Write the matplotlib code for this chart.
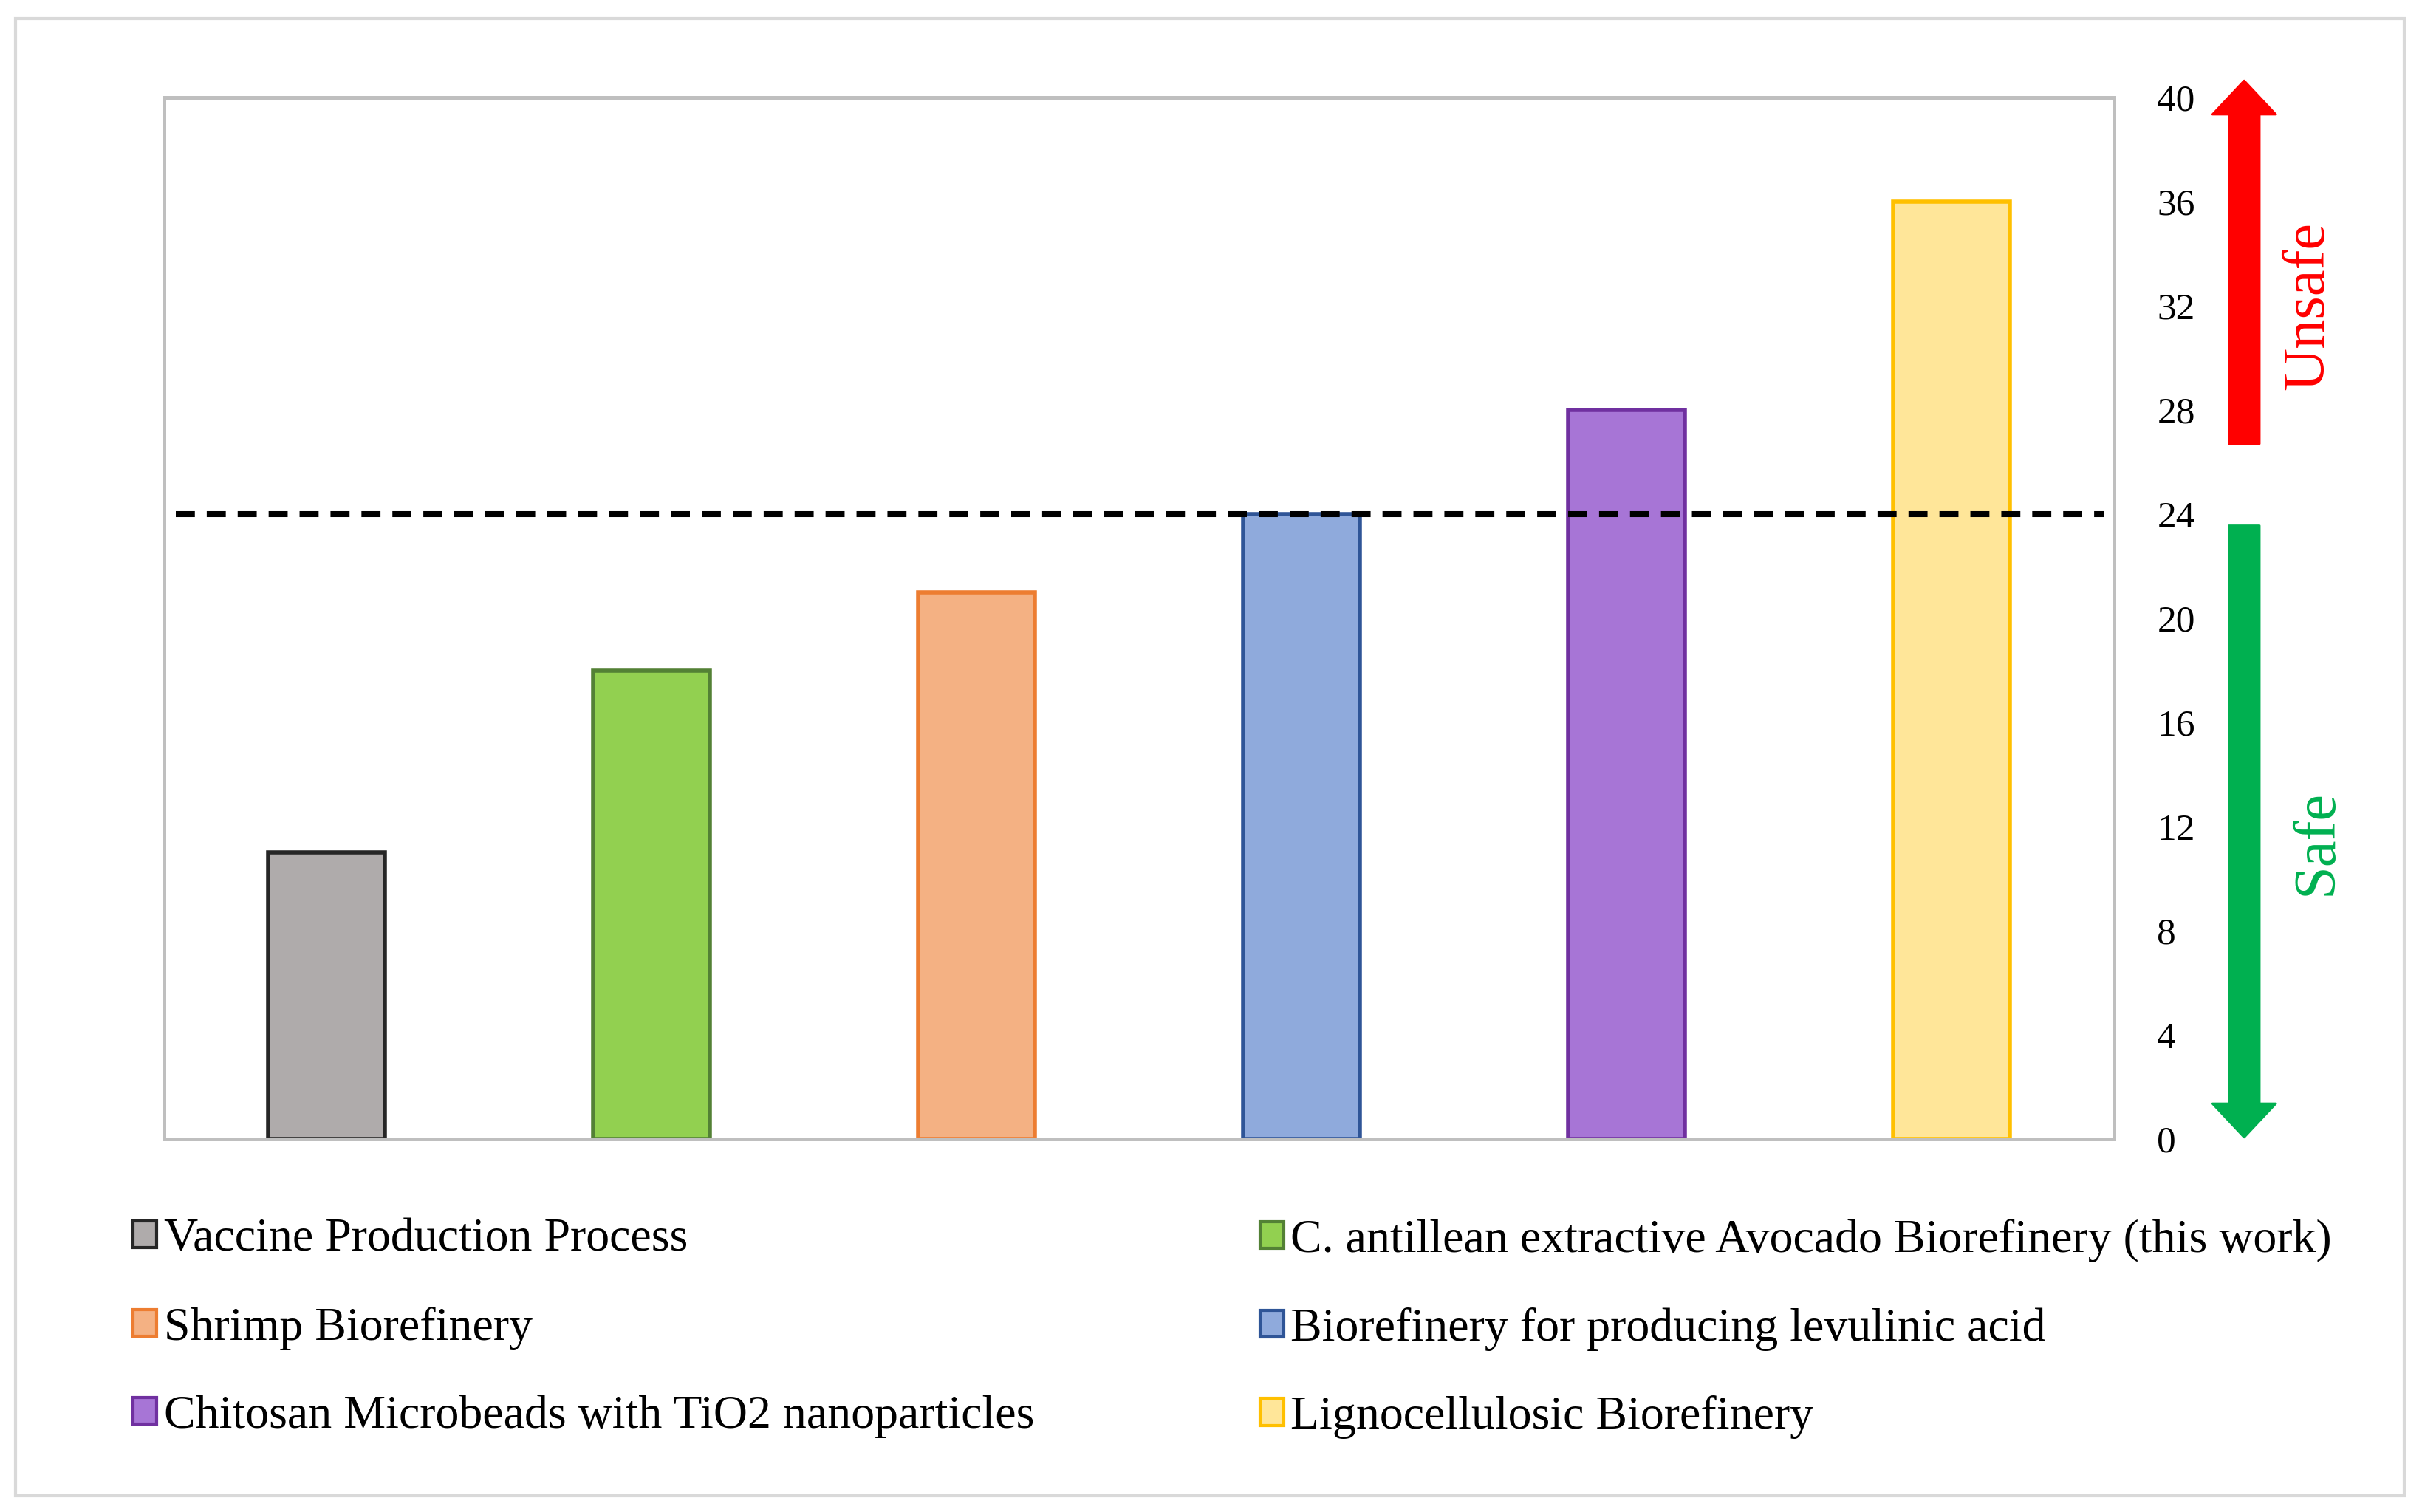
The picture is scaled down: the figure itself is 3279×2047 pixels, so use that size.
import matplotlib
matplotlib.use("Agg")
import matplotlib.pyplot as plt
from matplotlib.patches import Rectangle, Patch

# data
labels = [
    "Vaccine Production Process",
    "C. antillean extractive Avocado Biorefinery (this work)",
    "Shrimp Biorefinery",
    "Biorefinery for producing levulinic acid",
    "Chitosan Microbeads with TiO2 nanoparticles",
    "Lignocellulosic Biorefinery",
]
values = [11, 18, 21, 24, 28, 36]
threshold = 24
yticks = list(range(0, 41, 4))

fills = ["#AFABAB", "#92D050", "#F4B183", "#8FAADC", "#A775D6", "#FFE699"]
edges = ["#262626", "#538135", "#ED7D31", "#2F5597", "#7030A0", "#FFC000"]

plt.rcParams["font.family"] = ["Liberation Serif", "DejaVu Serif"]

fig = plt.figure(figsize=(16.4, 10.235), dpi=200)

# outer frame
fig.patches.append(Rectangle((0.0064, 0.0107), 0.986, 0.977, transform=fig.transFigure,
                             fill=False, edgecolor="#D9D9D9", linewidth=1.5))

ax = fig.add_axes([0.0677, 0.2467, 0.8049, 0.6888])
x = list(range(len(values)))
bars = ax.bar(x, values, width=0.36, color=fills, edgecolor=edges, linewidth=2.0, zorder=2)

ax.axhline(threshold, xmin=0.006, xmax=0.995, color="black", linewidth=2.9,
           linestyle=(0, (3.2, 2.0)), zorder=3)

ax.set_xlim(-0.5, 5.5)
ax.set_ylim(0, 40)
ax.set_xticks([])
ax.yaxis.tick_right()
ax.set_yticks(yticks)
ax.tick_params(axis="y", length=0, pad=21, labelsize=18.5)
for lab in ax.get_yticklabels():
    lab.set_horizontalalignment("left")
for s in ax.spines.values():
    s.set_color("#BFBFBF")
    s.set_linewidth(1.8)

# safe / unsafe arrows
ax.annotate("", xy=(1.0667, 40.65), xytext=(1.0667, 26.7),
            xycoords=("axes fraction", "data"), annotation_clip=False,
            arrowprops=dict(arrowstyle="simple,head_width=31,head_length=16.5,tail_width=15",
                            mutation_scale=1, color="#FF0000", shrinkA=0, shrinkB=0))
ax.annotate("", xy=(1.0667, 0.06), xytext=(1.0667, 23.56),
            xycoords=("axes fraction", "data"), annotation_clip=False,
            arrowprops=dict(arrowstyle="simple,head_width=31,head_length=16.5,tail_width=15",
                            mutation_scale=1, color="#00B050", shrinkA=0, shrinkB=0))
ax.text(1.100, 32.0, "Unsafe", transform=ax.get_yaxis_transform(), rotation=90,
        ha="center", va="center", color="#FF0000", fontsize=29)
ax.text(1.104, 11.4, "Safe", transform=ax.get_yaxis_transform(), rotation=90,
        ha="center", va="center", color="#00B050", fontsize=29)

# legend, two columns filled row by row
handles = [Patch(facecolor=f, edgecolor=e, linewidth=1.5) for f, e in zip(fills, edges)]
leg_kw = dict(frameon=False, fontsize=23, handlelength=0.5, handleheight=0.5,
              handletextpad=0.15, labelspacing=0.95, borderpad=0, borderaxespad=0,
              loc="upper left")
leg1 = fig.legend(handles[0::2], labels[0::2], bbox_to_anchor=(0.055, 0.194), **leg_kw)
leg2 = fig.legend(handles[1::2], labels[1::2], bbox_to_anchor=(0.52, 0.194), **leg_kw)

fig.savefig("out.png", dpi=200)
